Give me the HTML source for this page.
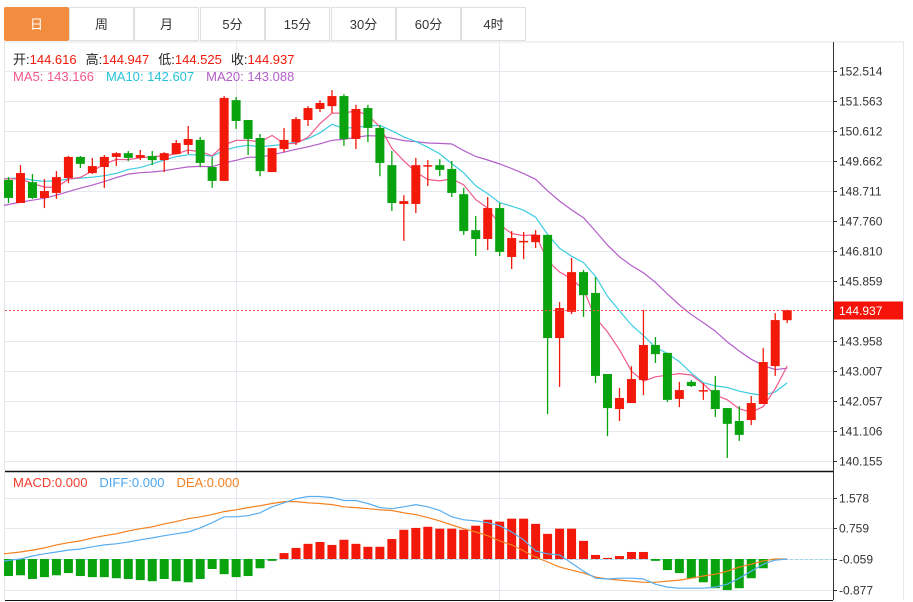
<!DOCTYPE html>
<html><head><meta charset="utf-8">
<style>
body{margin:0;background:#fff;font-family:"Liberation Sans","Noto Sans CJK SC",sans-serif;}
#wrap{position:relative;width:913px;height:602px;overflow:hidden;}
.tab{position:absolute;top:7px;height:34px;width:65px;border:1px solid #e0e0e0;box-sizing:border-box;font-size:13px;line-height:33px;text-align:center;color:#333;background:#fff;}
.tab.on{background:#f28c3f;color:#fff;border-color:#f28c3f;border-radius:2px;}
svg{position:absolute;left:0;top:0;}
</style></head><body>
<div id="wrap">
<div class="tab on" style="left:4px">日</div>
<div class="tab" style="left:69px">周</div>
<div class="tab" style="left:134px">月</div>
<div class="tab" style="left:200px">5分</div>
<div class="tab" style="left:265px">15分</div>
<div class="tab" style="left:331px">30分</div>
<div class="tab" style="left:396px">60分</div>
<div class="tab" style="left:461px">4时</div>
<svg id="svg" width="913" height="602"></svg>
</div>
<script>
const opens=[149.06,148.33,148.99,148.49,148.65,149.12,149.79,149.28,149.47,149.79,149.91,149.76,149.82,149.69,149.88,150.17,150.33,149.47,149.03,151.59,150.96,150.39,149.31,150.04,150.26,150.96,151.31,151.40,151.72,150.36,151.34,150.71,149.53,148.30,148.30,149.50,149.53,149.41,148.61,147.47,147.19,148.17,146.62,147.09,147.09,147.32,144.05,144.88,146.14,145.48,142.91,141.80,141.99,142.72,143.83,143.58,142.12,142.66,142.37,142.40,141.83,141.42,141.45,141.96,143.16,144.616];
const closes=[148.49,149.28,148.49,148.71,149.15,149.79,149.57,149.50,149.79,149.91,149.76,149.85,149.69,149.91,150.23,150.36,149.60,149.03,151.66,150.93,150.36,149.34,150.07,150.33,150.99,151.34,151.50,151.72,150.36,151.31,150.71,149.60,148.33,148.39,149.53,149.53,149.38,148.65,147.44,147.19,148.17,146.78,147.22,147.13,147.32,144.05,145.00,146.14,145.41,142.85,141.83,142.15,142.75,143.83,143.54,142.09,142.40,142.53,142.40,141.80,141.33,140.98,141.99,143.29,144.62,144.937];
const highs=[149.15,149.53,149.25,149.09,149.34,149.82,149.82,149.76,149.85,149.94,149.98,150.01,149.98,149.94,150.33,150.77,150.42,149.79,151.72,151.69,150.96,150.52,150.07,150.71,151.06,151.40,151.59,151.91,151.78,151.44,151.44,150.80,149.98,148.58,149.76,149.69,149.72,149.66,148.81,147.92,148.52,148.33,147.44,147.41,147.47,147.32,145.19,146.59,146.21,145.98,142.91,142.47,143.16,144.94,144.08,143.58,142.66,142.72,142.62,142.85,141.83,141.89,142.21,143.73,144.84,144.947];
const lows=[148.33,148.33,148.46,148.17,148.46,148.96,149.44,149.25,148.81,149.50,149.66,149.69,149.53,149.31,149.88,149.88,149.47,148.81,149.03,150.68,149.85,149.18,149.31,149.94,150.17,150.77,151.21,151.18,150.14,150.04,150.26,149.18,148.08,147.13,148.01,148.87,149.18,148.52,147.32,146.65,146.84,146.65,146.24,146.55,146.90,141.64,142.50,144.81,144.72,142.62,140.94,141.42,141.99,142.24,143.26,142.02,141.86,142.50,142.09,141.55,140.25,140.79,141.29,141.96,142.85,144.525];
const priorCloses=[147.2,147.3,147.4,147.3,147.5,147.4,147.5,147.6,147.4,147.5,149.0,149.2,149.1,149.0,149.2,149.3,149.2,149.3,149.2];
const priceTicks=[152.514,151.563,150.612,149.662,148.711,147.760,146.810,145.859,143.958,143.007,142.057,141.106,140.155];
const macdHist=[-0.46,-0.44,-0.54,-0.49,-0.44,-0.38,-0.46,-0.49,-0.49,-0.52,-0.54,-0.57,-0.60,-0.54,-0.60,-0.63,-0.54,-0.27,-0.41,-0.49,-0.46,-0.25,-0.05,0.16,0.30,0.41,0.46,0.38,0.52,0.41,0.33,0.33,0.54,0.79,0.84,0.87,0.82,0.82,0.79,0.90,1.06,1.01,1.09,1.09,0.95,0.68,0.82,0.82,0.49,0.11,0.03,0.08,0.19,0.19,-0.05,-0.30,-0.38,-0.52,-0.63,-0.79,-0.84,-0.79,-0.52,-0.25,-0.03,0];
const diffVals=[-0.05,0,0.08,0.14,0.19,0.24,0.27,0.33,0.38,0.41,0.46,0.52,0.57,0.63,0.68,0.73,0.84,0.98,1.14,1.14,1.17,1.25,1.41,1.52,1.63,1.69,1.69,1.66,1.58,1.58,1.50,1.39,1.36,1.41,1.47,1.41,1.31,1.14,1.06,1.03,0.98,0.90,0.73,0.52,0.22,0.14,0.11,-0.11,-0.33,-0.52,-0.54,-0.52,-0.52,-0.54,-0.68,-0.76,-0.79,-0.79,-0.79,-0.76,-0.68,-0.52,-0.33,-0.14,-0.03,0];
const deaVals=[0.14,0.19,0.24,0.30,0.38,0.44,0.49,0.57,0.63,0.68,0.76,0.82,0.87,0.95,1.01,1.09,1.14,1.20,1.28,1.33,1.39,1.44,1.50,1.55,1.55,1.52,1.50,1.47,1.41,1.39,1.36,1.33,1.31,1.25,1.20,1.12,1.03,0.92,0.82,0.73,0.63,0.49,0.38,0.22,0.05,-0.08,-0.22,-0.30,-0.38,-0.49,-0.54,-0.57,-0.60,-0.63,-0.63,-0.60,-0.57,-0.52,-0.46,-0.41,-0.33,-0.22,-0.14,-0.05,0,0];
const macdTicks=[1.578,0.759,-0.059,-0.877];

const NS='http://www.w3.org/2000/svg';
const svg=document.getElementById('svg');
const RED='#f2190a',GREEN='#08a30f';
function mk(tag,attrs,parent){const e=document.createElementNS(NS,tag);for(const k in attrs)e.setAttribute(k,attrs[k]);(parent||svg).appendChild(e);return e;}
const xC=i=>8.5+11.98*i;
const yP=p=>71+(152.514-p)*31.55;
const yM=v=>559-37*v;
const yMT=t=>559-37.5*(t+0.059);

let g=mk('g',{});


mk('line',{x1:4,y1:42,x2:904,y2:42,stroke:'#e3e6ea'},g);
mk('line',{x1:4.5,y1:42,x2:4.5,y2:600,stroke:'#e3e6ea'},g);
mk('line',{x1:903.5,y1:42,x2:903.5,y2:600,stroke:'#e3e6ea'},g);
[236,499].forEach(x=>mk('line',{x1:x+.5,y1:42,x2:x+.5,y2:600,stroke:'#e3e9ef'},g));
const pricePanel=mk('g',{});


priceTicks.forEach(t=>{const y=Math.round(yP(t))+.5;
 mk('line',{x1:5,y1:y,x2:833,y2:y,stroke:'#e3e9ef'},pricePanel);
 mk('line',{x1:833,y1:y,x2:837,y2:y,stroke:'#333'},pricePanel);
 const tx=mk('text',{x:839,y:y+4,'font-size':12,fill:'#333'},pricePanel);tx.textContent=t.toFixed(3);
 
 
});
macdTicks.forEach(t=>{const y=Math.round(yMT(t))+.5;
 mk('line',{x1:5,y1:y,x2:833,y2:y,stroke:'#e3e9ef'},g);
 mk('line',{x1:833,y1:y,x2:837,y2:y,stroke:'#333'},g);
 const tx=mk('text',{x:839,y:y+4,'font-size':12,fill:'#333'},g);tx.textContent=t.toFixed(3);
 
 
});
mk('line',{x1:833.5,y1:42,x2:833.5,y2:600,stroke:'#333'},g);
mk('line',{x1:5,y1:471.5,x2:833,y2:471.5,stroke:'#111','stroke-width':1.5},g);
mk('line',{x1:5,y1:600.5,x2:833,y2:600.5,stroke:'#111'},g);

const all=priorCloses.concat(closes);
function ma(n){const r=[];for(let i=0;i<closes.length;i++){const j=i+priorCloses.length;let s=0,c=0;for(let k=j-n+1;k<=j;k++){if(k>=0){s+=all[k];c++;}}r.push(s/c);}return r;}
[[20,'#b35ec9','ma20-line'],[10,'#3ccde2','ma10-line'],[5,'#f0588a','ma5-line']].forEach(([n,c,name])=>{
 const m=ma(n);let d='';m.forEach((v,i)=>{d+=(i?'L':'M')+(i==0?4:xC(i)).toFixed(1)+','+yP(v).toFixed(1);});
 const p=mk('path',{d:d,fill:'none',stroke:c,'stroke-width':1.2},pricePanel);
 
 
});

closes.forEach((c,i)=>{const o=opens[i],up=c>=o,col=up?RED:GREEN,x=xC(i);
 const cg=mk('g',{},pricePanel);
 
 
 mk('line',{x1:x,y1:yP(highs[i]),x2:x,y2:yP(lows[i]),stroke:col,'stroke-width':1.3},cg);
 const t=yP(Math.max(o,c)),b=yP(Math.min(o,c));
 mk('rect',{x:x-4.5,y:t,width:9,height:Math.max(1.5,b-t),fill:col},cg);
});

const last=closes[closes.length-1],ly=Math.round(yP(last))+.5;
const cl=mk('line',{x1:5,y1:ly,x2:833,y2:ly,stroke:'#f05050','stroke-dasharray':'2,2'});


const cb=mk('rect',{x:834,y:ly-9,width:69,height:18,fill:'#f5130a'});


const ct=mk('text',{x:839,y:ly+4.5,'font-size':12,fill:'#fff'});ct.textContent=last.toFixed(3);



const mg=mk('g',{});


mk('line',{x1:5,y1:559.5,x2:833,y2:559.5,stroke:'#9fd8ea','stroke-dasharray':'3,2'},mg);
macdHist.forEach((v,i)=>{if(!v)return;const y0=yM(0),y1=yM(v);
 const r=mk('rect',{x:xC(i)-4.5,y:Math.min(y0,y1),width:9,height:Math.abs(y1-y0),fill:v>0?RED:GREEN},mg);
 
 
});
[[deaVals,'#f5801f','dea-line'],[diffVals,'#5aaef0','diff-line']].forEach(([arr,c,name])=>{
 let d='';arr.forEach((v,i)=>{d+=(i?'L':'M')+(i==0?4:xC(i)).toFixed(1)+','+yM(v).toFixed(1);});
 const p=mk('path',{d:d,fill:'none',stroke:c,'stroke-width':1.2},mg);
 
 
});

function legend(y,items,name){const t=mk('text',{x:13,y:y,'font-size':13,'font-family':'Liberation Sans, Noto Sans CJK SC, sans-serif'});
 
 
 items.forEach(([s,c,dx])=>{const ts=mk('tspan',{fill:c},t);if(dx)ts.setAttribute('dx',dx);ts.textContent=s;});}
legend(64,[['开:','#222'],['144.616',RED],['高:','#222',9],['144.947',RED],['低:','#222',9],['144.525',RED],['收:','#222',9],['144.937',RED]],'ohlc-legend');
legend(81,[['MA5: 143.166','#f0588a'],['MA10: 142.607','#26c2da',12],['MA20: 143.088','#b35ec9',12]],'ma-legend');
legend(487,[['MACD:0.000','#f23a2a'],['DIFF:0.000','#4aa6ee',12],['DEA:0.000','#f5801f',12]],'macd-legend');
</script>
</body></html>
